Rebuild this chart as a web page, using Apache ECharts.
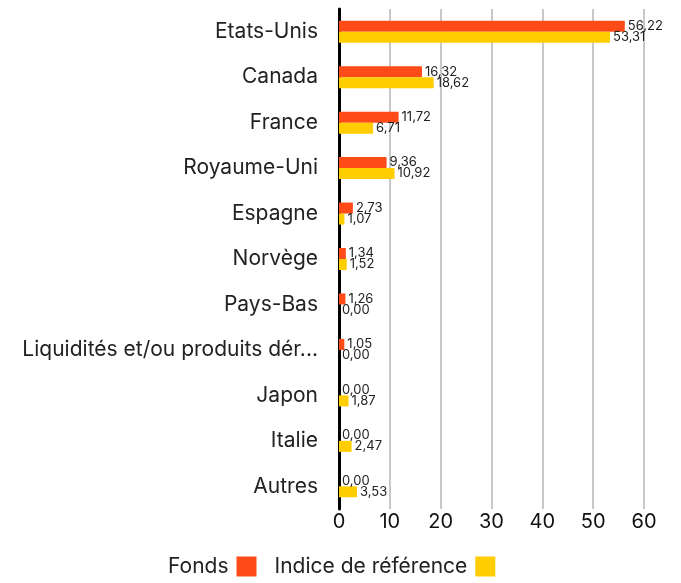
<!DOCTYPE html>
<html><head><meta charset="utf-8">
<script src="https://cdn.jsdelivr.net/npm/echarts@6/dist/echarts.min.js"></script>
<style>html,body{margin:0;padding:0;background:#fff}#c{width:681px;height:583px}</style>
</head><body><div id="c"></div>
<script>
var categories = ["Etats-Unis","Canada","France","Royaume-Uni","Espagne","Norvège","Pays-Bas","Liquidités et/ou produits dérivés","Japon","Italie","Autres"];
var fonds = [56.22,16.32,11.72,9.36,2.73,1.34,1.26,1.05,0.00,0.00,0.00];
var indice = [53.31,18.62,6.71,10.92,1.07,1.52,0.00,0.00,1.87,2.47,3.53];
var xTicks = [0,10,20,30,40,50,60];

var font = "Inter";
var chart = echarts.init(document.getElementById('c'), null, {renderer:'canvas'});
function fmt(p){ return p.value.toFixed(2).replace('.', ','); }
chart.setOption({
  animation:false,
  textStyle:{fontFamily:font},
  grid:{left:339,right:37,top:9,bottom:74,containLabel:false},
  xAxis:{type:'value',min:xTicks[0],max:xTicks[xTicks.length-1],interval:10,
    axisLine:{show:false},axisTick:{show:false},
    axisLabel:{fontSize:20,color:'#111',fontFamily:font,margin:3},
    splitLine:{show:true,lineStyle:{color:'#c8c8c8',width:2}}},
  yAxis:{type:'category',data:categories,inverse:true,
    axisLine:{show:true,lineStyle:{color:'#000',width:3}},
    axisTick:{show:false},
    axisLabel:{fontSize:21,color:'#222',fontFamily:font,margin:21,width:314,overflow:'truncate',ellipsis:'...'}},
  legend:{bottom:1,left:163,align:'right',itemWidth:20,itemHeight:20,itemGap:18,
    icon:'rect',textStyle:{fontSize:21,color:'#222',fontFamily:font,padding:[0,3,0,0]},
    data:['Fonds','Indice de référence']},
  series:[
    {name:'Fonds',type:'bar',data:fonds,barWidth:11,barGap:'0%',
     itemStyle:{color:'#ff4b17'},
     label:{show:true,position:'right',distance:3,fontSize:13,color:'#222',fontFamily:font,formatter:fmt}},
    {name:'Indice de référence',type:'bar',data:indice,barWidth:11,
     itemStyle:{color:'#ffcd00'},
     label:{show:true,position:'right',distance:3,fontSize:13,color:'#222',fontFamily:font,formatter:fmt}}
  ]
});
</script></body></html>
